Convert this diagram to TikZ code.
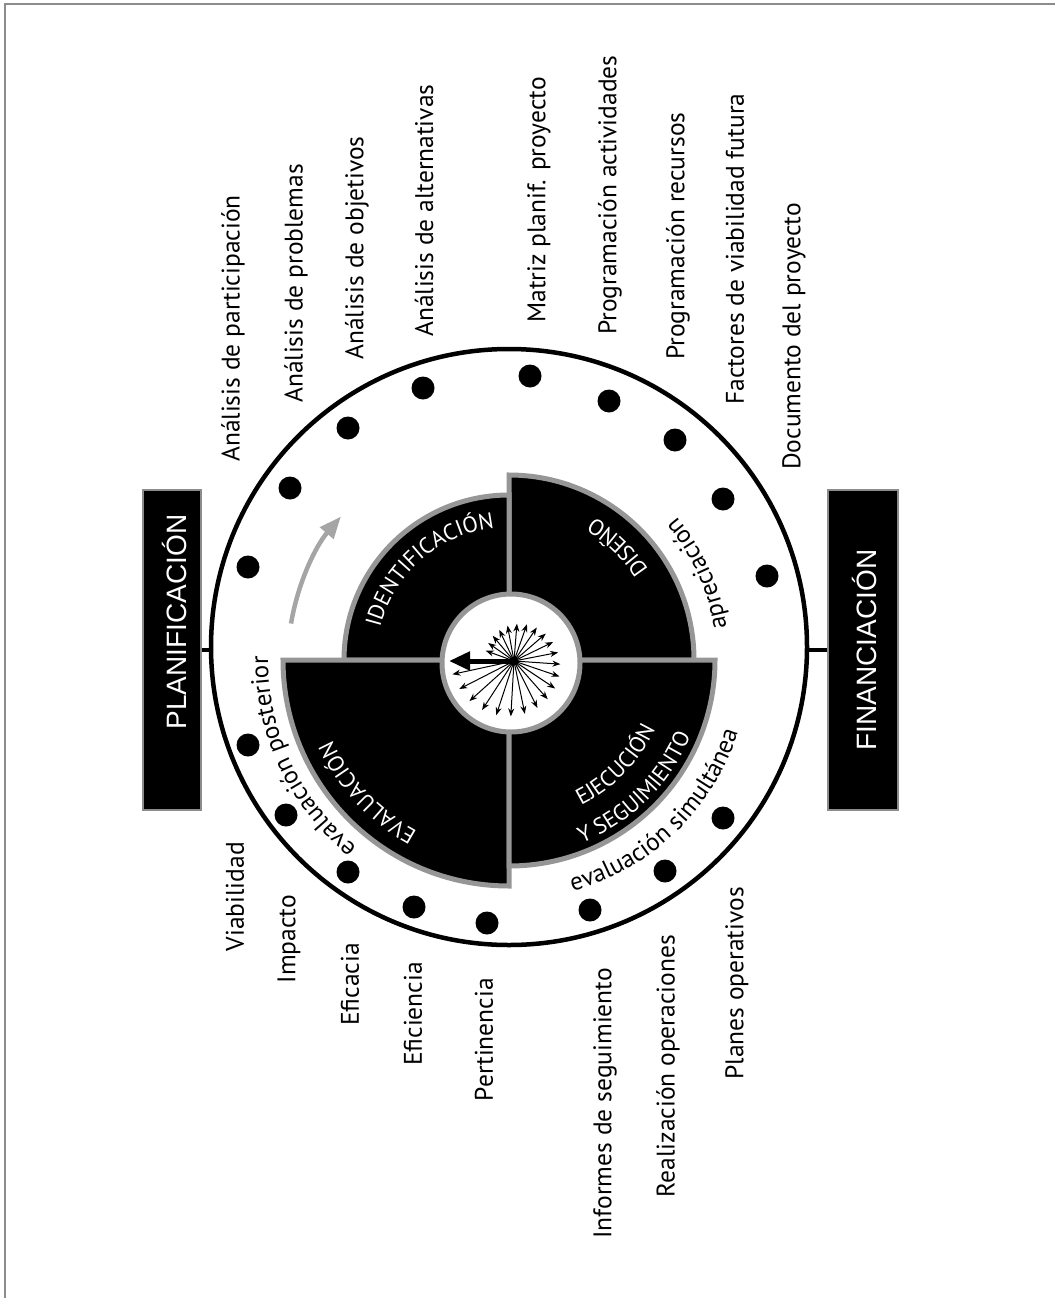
\documentclass[tikz,border=0pt]{standalone}
\usepackage{fontspec}
\setmainfont{PT Sans}
\newfontfamily\boxfont{Liberation Sans}
\usetikzlibrary{decorations.text,arrows.meta}
\definecolor{rimgray}{RGB}{150,150,150}
\definecolor{arrowgray}{RGB}{165,165,165}
\definecolor{framegray}{RGB}{140,140,140}
\newcommand\sectfont{\fontsize{22.5}{26}\selectfont}
\newcommand\curvefont{\fontsize{25}{28}\selectfont}
\begin{document}
\begin{tikzpicture}[x=1pt,y=1pt,
  lbl/.style={rotate=90, font=\fontsize{25.5}{28}\selectfont, inner sep=0pt},
  toplbl/.style={lbl, anchor=west},
  botlbl/.style={lbl, anchor=east},
  dot/.style={circle, fill=black, minimum size=23pt, inner sep=0pt},
  sector/.style={fill=black, draw=rimgray, line width=5pt, line join=miter},
  phasebox/.style={fill=black, draw=framegray, line width=2pt, minimum width=58pt, minimum height=320pt, inner sep=0pt},
  boxtext/.style={rotate=90, text=white, font=\boxfont\fontsize{28}{32}\selectfont, inner sep=0pt},
  whitetext/.style={decorate, decoration={text along path, text align=center, text color=white}},
  blacktext/.style={decorate, decoration={text along path, text align=center, text color=black}},
]
\useasboundingbox (0,0) rectangle (1055,-1298);
% frame
\draw[framegray, line width=1.5pt] (5,-1298) -- (5,-4) -- (1055,-4);

% outer ring
\node[circle, draw=black, line width=4.5pt, minimum size=596pt, inner sep=0pt] (ring) at (509,-647) {};

% side boxes
\node[phasebox] (planbox) at (172,-650) {};
\node[boxtext] (plantext) at (174,-622) {PLANIFICACIÓN};
\node[phasebox, minimum width=70pt] (finbox) at (863,-650) {};
\node[boxtext] (fintext) at (864,-650) {FINANCIACIÓN};
\draw[line width=4pt] (planbox.east) -- (planbox.east -| ring.west);
\draw[line width=4pt] (finbox.west) -- (finbox.west -| ring.east);

% dots
\foreach \i/\x/\y in {1/248/567, 2/290/488, 3/348/428, 4/423/388, 5/530/376, 6/609/401, 7/675/440, 8/723/499, 9/767/576,
  10/248/745, 11/286/815, 12/348/872, 13/414/907, 14/487/923, 15/590/910, 16/665/871, 17/723/818}
  \node[dot] (d\i) at (\x,-\y) {};

% sectors
\coordinate (O) at (509,-660);
\draw[sector] (O) -- ([shift={(90:185)}]O) arc[start angle=90, end angle=0, radius=185] -- cycle;
\draw[sector] (O) -- ([shift={(180:165)}]O) arc[start angle=180, end angle=90, radius=165] -- cycle;
\draw[sector] (O) -- ([shift={(270:226)}]O) arc[start angle=270, end angle=180, radius=226] -- cycle;
\draw[sector] (O) -- ([shift={(360:206)}]O) arc[start angle=360, end angle=270, radius=206] -- cycle;

% hub
\node[circle, fill=white, draw=rimgray, line width=5pt, minimum size=138pt, inner sep=0pt] (hub) at (511,-663) {};
\coordinate (star) at (514,-661);
\foreach \i in {0,...,22}{
  \pgfmathsetmacro\ang{160-\i*14.9}
  \pgfmathsetmacro\len{30+\i*1.5}
  \draw[line width=1pt, -{Stealth[length=8pt,width=6pt]}] (star) -- ++(\ang:\len);
}
\draw[line width=5pt, -{Triangle[length=21pt,width=18pt]}] (star) -- ++(180:65);
\fill (star) circle[radius=4.5];

% sector texts
\path[whitetext, decoration={text={|\sectfont|IDENTIFICACIÓN}}] ([shift={(171:133)}]O) arc[start angle=171, end angle=91, radius=133];
\path[whitetext, decoration={text={|\sectfont|DISEÑO}}] ([shift={(16:166)}]O) arc[start angle=16, end angle=76, radius=166];
\path[whitetext, decoration={text={|\sectfont|EVALUACIÓN}}] ([shift={(253:194)}]O) arc[start angle=253, end angle=193, radius=194];
\path[whitetext, decoration={text={|\sectfont|EJECUCIÓN}}] ([shift={(285:162)}]O) arc[start angle=285, end angle=346, radius=162];
\path[whitetext, decoration={text={|\sectfont|Y SEGUIMIENTO}}] ([shift={(279:197)}]O) arc[start angle=279, end angle=350, radius=197];

% curved black texts
\path[blacktext, decoration={text={|\curvefont|apreciación}}] ([shift={(-1:220)}]O) arc[start angle=-1, end angle=50, radius=220];
\path[blacktext, decoration={text={|\curvefont|evaluación simultánea}}] ([shift={(272:240)}]O) arc[start angle=272, end angle=356, radius=240];
\path[blacktext, decoration={text={|\curvefont|evaluación posterior}}] ([shift={(237:241)}]O) arc[start angle=237, end angle=173, radius=241];

% gray cycle arrow
\draw[arrowgray, line width=4.5pt, -{Triangle[length=22pt,width=17pt]}] ([shift={(170.5:221)}]O) arc[start angle=170.5, end angle=139.5, radius=221];

% top labels
\node[toplbl] (l1) at (233,-462) {Análisis de participación};
\node[toplbl] (l2) at (296,-403) {Análisis de problemas};
\node[toplbl] (l3) at (357,-360) {Análisis de objetivos};
\node[toplbl] (l4) at (424,-337) {Análisis de alternativas};
\node[toplbl] (l5) at (539,-323) {Matriz planif. proyecto};
\node[toplbl] (l6) at (610,-335) {Programación actividades};
\node[toplbl] (l7) at (678,-360) {Programación recursos};
\node[toplbl] (l8) at (735,-405) {Factores de viabilidad futura};
\node[toplbl] (l9) at (794,-470) {Documento del proyecto};

% bottom labels
\node[botlbl] (b1) at (235,-842) {Viabilidad};
\node[botlbl] (b2) at (289,-895) {Impacto};
\node[botlbl] (b3) at (350,-943) {Eficacia};
\node[botlbl] (b4) at (413,-962) {Eficiencia};
\node[botlbl] (b5) at (484,-978) {Pertinencia};
\node[botlbl] (b6) at (605,-968) {Informes de seguimiento};
\node[botlbl] (b7) at (668,-935) {Realización operaciones};
\node[botlbl] (b8) at (737,-887) {Planes operativos};
\end{tikzpicture}
\end{document}
